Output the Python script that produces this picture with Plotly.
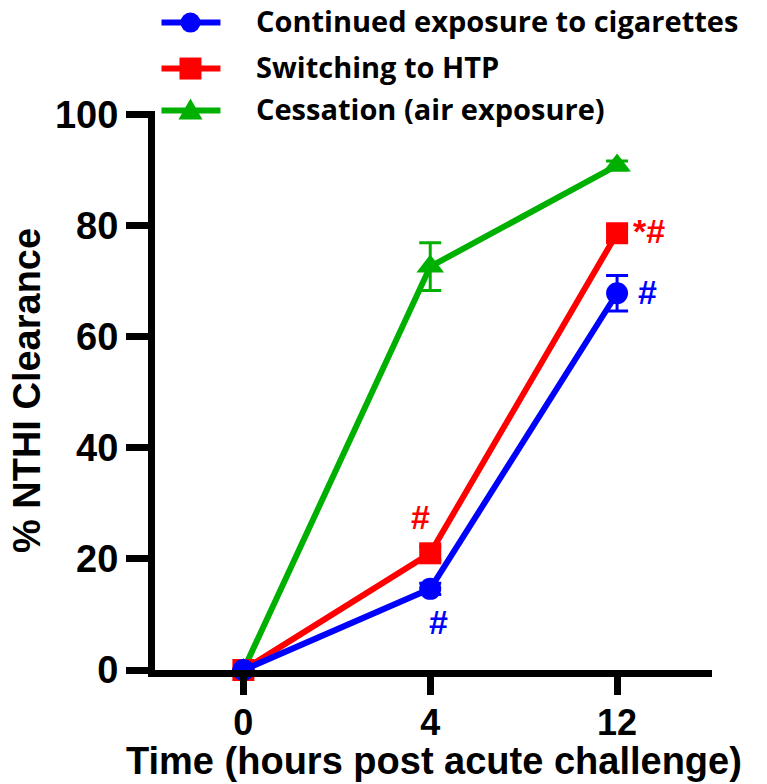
import plotly.graph_objects as go

# time points (hours post acute challenge)
time_labels = ["0", "4", "12"]

# % NTHI clearance, mean values
cig_mean = [0, 14.6, 67.8]
cig_err = [0, 1.0, 3.2]
htp_mean = [0, 21.0, 78.6]
htp_err = [0, 1.2, 1.4]
air_mean = [0, 72.6, 90.8]
air_err = [0, 4.3, 0.8]

# significance marks
cig_marks = ["", "#", "#"]
htp_marks = ["", "#", "*#"]

BLUE = "#0000FF"
RED = "#FF0000"
GREEN = "#00B000"
AX_FONT = "Liberation Sans, Arial, sans-serif"

W, H = 767, 784
L, R, T, B = 154.5, 55, 110.5, 114
PW, PH = W - L - R, H - T - B

def px(x):  # pixel -> paper x
    return (x - L) / PW

def py(y):  # pixel -> paper y
    return (H - B - y) / PH

fig = go.Figure()

def add_series(name, y, err, color, symbol, size):
    fig.add_trace(go.Scatter(
        x=time_labels, y=y, name=name, mode="lines+markers",
        line=dict(color=color, width=6),
        marker=dict(color=color, symbol=symbol, size=size, line=dict(width=0)),
        error_y=dict(type="data", array=err, visible=True, color=color,
                     thickness=3, width=11),
        cliponaxis=False, showlegend=False,
    ))

# drawn back to front: green, red, blue
add_series("Cessation (air exposure)", air_mean, air_err, GREEN, "triangle-up", 24)
add_series("Switching to HTP", htp_mean, htp_err, RED, "square", 22)
add_series("Continued exposure to cigarettes", cig_mean, cig_err, BLUE, "circle", 22)

# significance annotations (x given as category index)
mark_font = dict(family=AX_FONT, size=34, weight="bold")
fig.add_annotation(x=1, y=htp_mean[1], text=htp_marks[1], showarrow=False,
                   font=dict(mark_font, color=RED), yshift=36, xshift=-10)
fig.add_annotation(x=1, y=cig_mean[1], text=cig_marks[1], showarrow=False,
                   font=dict(mark_font, color=BLUE), yshift=-33, xshift=8)
fig.add_annotation(x=2, y=htp_mean[2], text=htp_marks[2], showarrow=False,
                   font=dict(mark_font, color=RED), xanchor="left", xshift=14, yshift=2)
fig.add_annotation(x=2, y=cig_mean[2], text=cig_marks[2], showarrow=False,
                   font=dict(mark_font, color=BLUE), xanchor="left", xshift=19, yshift=1)

# hand-drawn legend (line + marker + label), top left
legend_rows = [
    ("Continued exposure to cigarettes", BLUE, "circle", 22),
    ("Switching to HTP", RED, "square", 68),
    ("Cessation (air exposure)", GREEN, "triangle", 110),
]
for label, color, sym, yy in legend_rows:
    fig.add_shape(type="line", xref="paper", yref="paper",
                  x0=px(161), x1=px(220), y0=py(yy), y1=py(yy),
                  line=dict(color=color, width=6))
    if sym == "circle":
        fig.add_shape(type="circle", xref="paper", yref="paper",
                      xsizemode="pixel", ysizemode="pixel",
                      xanchor=px(190), yanchor=py(yy), x0=-10, x1=10, y0=-10, y1=10,
                      fillcolor=color, line=dict(width=0))
    elif sym == "square":
        fig.add_shape(type="rect", xref="paper", yref="paper",
                      xsizemode="pixel", ysizemode="pixel",
                      xanchor=px(190), yanchor=py(yy), x0=-11, x1=11, y0=-11, y1=11,
                      fillcolor=color, line=dict(width=0))
    else:
        fig.add_shape(type="path", xref="paper", yref="paper",
                      xsizemode="pixel", ysizemode="pixel",
                      xanchor=px(190), yanchor=py(yy),
                      path="M-12,-9 L12,-9 L0,12 Z",
                      fillcolor=color, line=dict(width=0))
    fig.add_annotation(xref="paper", yref="paper", x=px(254), y=py(yy - 2),
                       xanchor="left", yanchor="middle", showarrow=False, text=label,
                       font=dict(family="Open Sans, sans-serif", size=29,
                                 weight="bold", color="black"))

# axis titles, placed as free annotations to sit where the reference has them
title_font = dict(family=AX_FONT, size=38, weight="bold", color="black")
fig.add_annotation(xref="paper", yref="paper", x=0.5, y=py(761),
                   xanchor="center", yanchor="middle", showarrow=False,
                   text="Time (hours post acute challenge)", font=title_font)
fig.add_annotation(xref="paper", yref="paper", x=px(26), y=0.5,
                   xanchor="center", yanchor="middle", showarrow=False, textangle=-90,
                   text="% NTHI Clearance", font=title_font)

fig.update_layout(
    width=W, height=H,
    margin=dict(l=L, r=R, t=T, b=B, autoexpand=False),
    plot_bgcolor="white", paper_bgcolor="white",
    showlegend=False,
)

fig.update_xaxes(
    type="category", range=[-0.473, 2.508],
    showline=True, linecolor="black", linewidth=7,
    ticks="outside", ticklen=18, tickwidth=7, tickcolor="black",
    showgrid=False, zeroline=False, automargin=False, ticklabelstandoff=-3,
    tickfont=dict(family=AX_FONT, size=36, weight="bold", color="black"),
)
fig.update_yaxes(
    range=[0, 100.6], tickvals=[0, 20, 40, 60, 80, 100],
    showline=True, linecolor="black", linewidth=7,
    ticks="outside", ticklen=22, tickwidth=7, tickcolor="black",
    showgrid=False, zeroline=False, automargin=False,
    tickfont=dict(family=AX_FONT, size=38, weight="bold", color="black"),
)

# no modebar; drop the browser's default body margin so the figure fills the window
fig.write_html("out.html", config={"displayModeBar": False},
               post_script="document.body.style.margin='0';document.body.style.overflow='hidden';")
